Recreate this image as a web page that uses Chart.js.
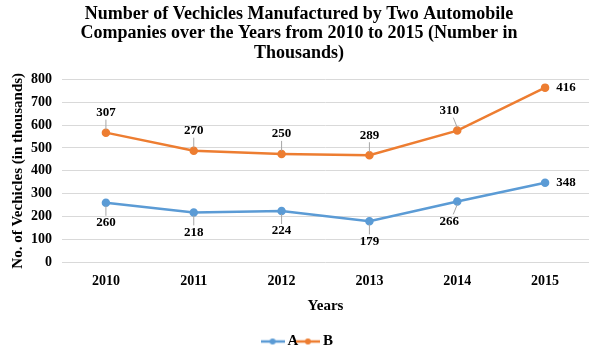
<!DOCTYPE html>
<html>
<head>
<meta charset="utf-8">
<script src="https://cdn.jsdelivr.net/npm/chart.js@4/dist/chart.umd.min.js"></script>
<style>
  html, body { margin: 0; padding: 0; background: #fff; }
  #wrap { width: 603px; height: 352px; }
</style>
</head>
<body>
<div id="wrap"><canvas id="myChart" width="603" height="352"></canvas></div>
<script>
(() => {
    "use strict";

    const years = ["2010", "2011", "2012", "2013", "2014", "2015"];
    const companyA = [260, 218, 224, 179, 266, 348];
    const companyB = [307, 270, 250, 289, 310, 416];
    const yTicks = [0, 100, 200, 300, 400, 500, 600, 700, 800];

    const blue = "#5b9bd5";
    const orange = "#ed7d31";
    const serif = "'Liberation Serif', 'Times New Roman', serif";

    // legend marker: short line with a dot
    const marker = (color) => {
        const c = document.createElement("canvas");
        c.width = 24;
        c.height = 10;
        const g = c.getContext("2d");
        g.strokeStyle = color;
        g.lineWidth = 2.5;
        g.beginPath();
        g.moveTo(0, 5);
        g.lineTo(24, 5);
        g.stroke();
        g.fillStyle = color;
        g.beginPath();
        g.arc(12, 5, 3, 0, Math.PI * 2);
        g.fill();
        return c;
    };

    // value labels with small leader lines
    const valueLabels = {
        id: "valueLabels",
        afterDatasetsDraw(chart) {
            const ctx = chart.ctx;
            ctx.save();
            ctx.font = "bold 13px " + serif;
            ctx.fillStyle = "#000";
            ctx.textAlign = "center";
            ctx.textBaseline = "middle";
            chart.data.datasets.forEach((ds, di) => {
                const meta = chart.getDatasetMeta(di);
                meta.data.forEach((pt, i) => {
                    const last = i === meta.data.length - 1;
                    let dx = 0;
                    let dy = di === 0 ? 20 : -20;
                    if (last) {
                        dx = 21;
                        dy = 0;
                    } else if (i === 4) {
                        dx = -8;
                    }
                    const lx = pt.x + dx;
                    const ly = pt.y + dy;
                    if (!last) {
                        ctx.strokeStyle = "#a6a6a6";
                        ctx.lineWidth = 1;
                        ctx.beginPath();
                        ctx.moveTo(pt.x, pt.y + (dy > 0 ? 3 : -3));
                        ctx.lineTo(lx + (dx < 0 ? 4 : 0), ly + (dy > 0 ? -7 : 7));
                        ctx.stroke();
                    }
                    ctx.fillText(String(ds.labels[i]), lx, ly);
                });
            });
            ctx.restore();
        }
    };

    const ctx = document.getElementById("myChart").getContext("2d");
    // eslint-disable-next-line no-unused-vars
    const myChart = new Chart(ctx, {
        type: "line",
        data: {
            labels: years,
            datasets: [{
                label: "A",
                data: companyA,
                labels: companyA,
                borderColor: blue,
                backgroundColor: blue,
                pointBackgroundColor: blue,
                borderWidth: 2.5,
                pointRadius: 3,
                lineTension: 0,
                fill: false,
                markerImg: marker(blue)
            }, {
                label: "B",
                data: companyB,
                labels: companyB,
                borderColor: orange,
                backgroundColor: orange,
                pointBackgroundColor: orange,
                borderWidth: 2.5,
                pointRadius: 3,
                lineTension: 0,
                fill: false,
                markerImg: marker(orange)
            }]
        },
        options: {
            responsive: false,
            animation: false,
            layout: { padding: { left: 9, right: 14, top: 2, bottom: -7 } },
            plugins: {
                title: {
                    display: true,
                    text: [
                        "Number of Vechicles Manufactured by Two Automobile",
                        "Companies over the Years from 2010 to 2015 (Number in",
                        "Thousands)"
                    ],
                    color: "#000",
                    font: { family: serif, size: 18, weight: "bold", lineHeight: 1.1 },
                    padding: { top: 2, bottom: 16 }
                },
                legend: {
                    position: "bottom",
                    labels: {
                        usePointStyle: true,
                        color: "#000",
                        font: { family: serif, size: 15, weight: "bold" },
                        boxWidth: 24,
                        boxHeight: 10,
                        padding: 2,
                        generateLabels(chart) {
                            return chart.data.datasets.map((ds, i) => ({
                                text: ds.label,
                                pointStyle: ds.markerImg,
                                fillStyle: ds.borderColor,
                                strokeStyle: ds.borderColor,
                                fontColor: "#000",
                                datasetIndex: i,
                                hidden: false
                            }));
                        }
                    }
                },
                tooltip: { enabled: false }
            },
            scales: {
                x: {
                    offset: true,
                    grid: { display: false },
                    border: { display: false },
                    ticks: {
                        color: "#000",
                        font: { family: serif, size: 14, weight: "bold" },
                        padding: 3
                    },
                    title: {
                        display: true,
                        text: "Years",
                        color: "#000",
                        font: { family: serif, size: 15, weight: "bold" },
                        padding: { top: 4, bottom: 17 }
                    }
                },
                y: {
                    stacked: true,
                    min: yTicks[0],
                    max: yTicks[yTicks.length - 1],
                    afterBuildTicks(axis) {
                        axis.ticks = yTicks.map((v) => ({ value: v }));
                    },
                    afterFit(axis) {
                        axis.width = 53;
                    },
                    grid: { color: "#d9d9d9", lineWidth: 1, drawTicks: false },
                    border: { display: false },
                    ticks: {
                        color: "#000",
                        font: { family: serif, size: 14, weight: "bold" },
                        padding: 10
                    },
                    title: {
                        display: true,
                        text: "No. of Vechicles (in thousands)",
                        color: "#000",
                        font: { family: serif, size: 15, weight: "bold" },
                        padding: { top: 0, bottom: 5 }
                    }
                }
            }
        },
        plugins: [valueLabels]
    });
})();
</script>
</body>
</html>
